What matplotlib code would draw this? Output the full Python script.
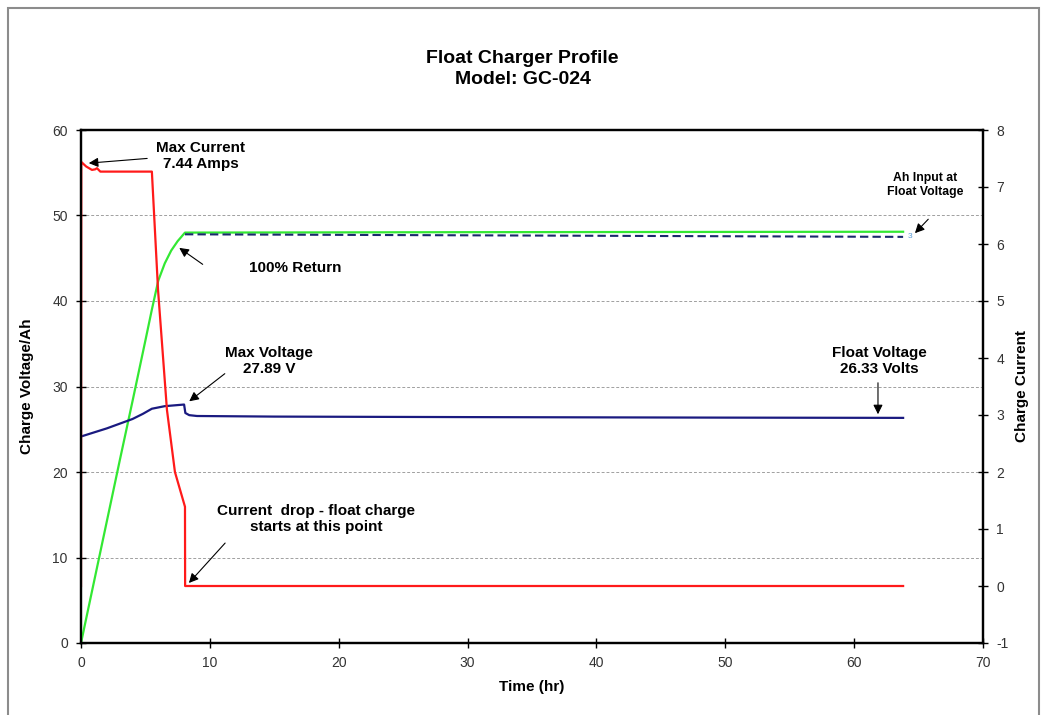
import matplotlib
matplotlib.use('Agg')
import matplotlib.pyplot as plt
from matplotlib.patches import Rectangle

plt.rcParams['font.family'] = ['Liberation Sans', 'DejaVu Sans']
plt.rcParams['axes.unicode_minus'] = False

# charge current (right axis)
cur_t = [0.0, 0.02, 0.4, 0.85, 1.1, 1.24, 1.5, 3.0, 5.5, 5.98, 6.67, 7.29, 8.07, 8.08, 63.8]
cur_a = [0.0, 7.44, 7.36, 7.30, 7.31, 7.33, 7.27, 7.27, 7.27, 5.19, 3.09, 2.00, 1.39, 0.0, 0.0]

# Ah input (left axis)
ah_t = [0.0, 1.0, 2.0, 3.0, 4.0, 5.0, 5.5, 6.0, 6.5, 7.0, 7.5, 8.07, 30.0, 63.8]
ah_v = [0.0, 7.1, 14.2, 21.3, 28.3, 35.4, 39.0, 42.4, 44.4, 45.9, 47.0, 48.0, 48.05, 48.1]

# charge voltage (left axis)
volt_t = [0.0, 2.0, 4.0, 4.8, 5.5, 6.5, 8.0, 8.1, 8.4, 9.0, 15.0, 30.0, 50.0, 63.8]
volt_v = [24.15, 25.1, 26.2, 26.8, 27.4, 27.7, 27.89, 26.9, 26.65, 26.55, 26.48, 26.42, 26.36, 26.33]

# Ah input at float voltage (dashed)
flt_t = [8.07, 63.8]
flt_v = [47.8, 47.5]

fig = plt.figure(figsize=(10.45, 7.15), dpi=100)
ax = fig.add_axes([81/1045, 72/715, 902/1045, 513/715])
ax2 = ax.twinx()

ax.plot(ah_t, ah_v, color='#33e833', lw=1.6, zorder=3)
ax.plot(flt_t, flt_v, color='#1a2a6c', lw=1.5, ls=(0, (4, 2)), zorder=3)
ax.plot(volt_t, volt_v, color='#1a1a80', lw=1.6, zorder=3)
ax2.plot(cur_t, cur_a, color='#ff1a1a', lw=1.6)
ax.text(64.3, 47.5, '3', color='#5a9bd5', fontsize=6, ha='center', va='center')

ax.set_xlim(0, 70)
ax.set_ylim(0, 60)
ax2.set_ylim(-1, 8)
ax.set_xticks(range(0, 71, 10))
ax.set_yticks(range(0, 61, 10))
ax2.set_yticks(range(-1, 9))

for y in range(10, 60, 10):
    ax.axhline(y, color='#a0a0a0', lw=0.7, ls=(0, (3, 2)), zorder=1)

for a in (ax, ax2):
    for s in a.spines.values():
        s.set_linewidth(1.6)
        s.set_color('black')
    a.tick_params(direction='inout', length=7, width=1, labelsize=10,
                  labelcolor='#333333', pad=6)

ax.set_xlabel('Time (hr)', fontsize=11, fontweight='bold', labelpad=7)
ax.set_ylabel('Charge Voltage/Ah', fontsize=11, fontweight='bold', labelpad=13)
ax2.set_ylabel('Charge Current', fontsize=11, fontweight='bold', labelpad=5)

fig.text(0.5, 1 - 69/715, 'Float Charger Profile\nModel: GC-024', ha='center',
         va='center', fontsize=14, fontweight='bold', linespacing=1.25)

arrow = dict(arrowstyle='-|>', color='black', lw=0.8, mutation_scale=14)
notes = [
    ('Max Current\n7.44 Amps', (9.31, 56.96), (5.35, 56.7), (0.39, 56.1), 11),
    ('100% Return', (16.6, 43.9), (9.62, 44.1), (7.45, 46.4), 11),
    ('Max Voltage\n27.89 V', (14.59, 32.98), (11.33, 31.7), (8.23, 28.07), 11),
    ('Float Voltage\n26.33 Volts', (61.93, 32.98), (61.85, 30.76), (61.85, 26.43), 11),
    ('Ah Input at\nFloat Voltage', (65.5, 53.57), (65.9, 49.8), (64.57, 47.7), 8.8),
    ('Current  drop - float charge\nstarts at this point', (18.24, 14.5), (11.33, 11.93), (8.23, 6.78), 11),
]
for txt, tpos, tail, head, fs in notes:
    ax.text(tpos[0], tpos[1], txt, ha='center', va='center', fontsize=fs,
            fontweight='bold', linespacing=1.15, zorder=5)
    ax.annotate('', xy=head, xytext=tail, arrowprops=arrow, zorder=5)

fig.patches.append(Rectangle((8/1045, -0.05), 1031/1045, 1.05 - 8/715,
                             transform=fig.transFigure, fill=False,
                             edgecolor='#8c8c8c', lw=1.5))

fig.savefig('out.png', dpi=100)
